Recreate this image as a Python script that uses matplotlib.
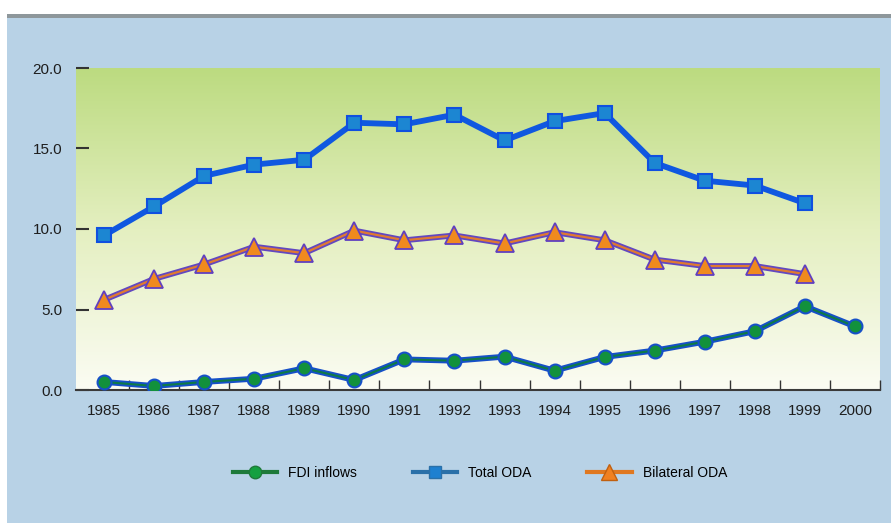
import numpy as np
import matplotlib.pyplot as plt
from matplotlib.lines import Line2D
from matplotlib.patches import Rectangle
from matplotlib.colors import LinearSegmentedColormap

plt.rcParams['font.family'] = ['Liberation Sans', 'DejaVu Sans']

# Datos
years = list(range(1985, 2001))
fdi = [0.5, 0.25, 0.5, 0.7, 1.35, 0.62, 1.9, 1.82, 2.07, 1.2, 2.05, 2.45, 3.0, 3.65, 5.2, 3.95]
oda_years = list(range(1985, 2000))
total_oda = [9.6, 11.4, 13.3, 14.0, 14.3, 16.6, 16.5, 17.1, 15.5, 16.7, 17.2, 14.1, 13.0, 12.7, 11.6]
bilateral_oda = [5.6, 6.9, 7.8, 8.9, 8.5, 9.9, 9.3, 9.6, 9.1, 9.8, 9.3, 8.1, 7.7, 7.7, 7.2]
yticks = [0, 5, 10, 15, 20]

W, H = 891, 523
fig = plt.figure(figsize=(W / 100, H / 100), dpi=100, facecolor='white')

# fondo azul y linea gris superior
fig.patches.append(Rectangle((7 / W, 0), 1, (H - 18) / H, transform=fig.transFigure,
                             facecolor='#B8D2E6', edgecolor='none', zorder=-10))
fig.patches.append(Rectangle((7 / W, (H - 18) / H), 1, 4 / H, transform=fig.transFigure,
                             facecolor='#8E979B', edgecolor='none', zorder=-10))

ax = fig.add_axes([76 / W, 1 - 390 / H, (880 - 76) / W, (390 - 68) / H])
ax.set_xlim(1984.44, 2000.5)
ax.set_ylim(0, 20)

# degradado verde
cmap = LinearSegmentedColormap.from_list('g', ['#FBFCF3', '#E4EFC0', '#BCDB80'])
grad = np.linspace(0, 1, 256).reshape(-1, 1)
ax.imshow(grad, extent=[1984.44, 2000.5, 0, 20], origin='lower', aspect='auto',
          cmap=cmap, zorder=0)

# Total ODA
ax.plot(oda_years, total_oda, color='#1058E0', lw=4.2, zorder=3,
        marker='s', ms=10, mfc='#1C86D2', mec='#1050E0', mew=1.5)

# Bilateral ODA
ax.plot(oda_years, bilateral_oda, color='#6248C0', lw=4.2, zorder=3)
ax.plot(oda_years, bilateral_oda, color='#E07A30', lw=1.6, zorder=3,
        marker='^', ms=13, mfc='#F08A1E', mec='#6040C0', mew=1.3)

# FDI inflows
ax.plot(years, fdi, color='#1650C8', lw=4.2, zorder=3)
ax.plot(years, fdi, color='#0E7A48', lw=1.5, zorder=3,
        marker='o', ms=10, mfc='#12913C', mec='#1650C8', mew=1.5)

for s in ['top', 'right', 'left']:
    ax.spines[s].set_visible(False)
ax.spines['bottom'].set_color('#3A3A3A')
ax.spines['bottom'].set_linewidth(1.5)

ax.set_yticks(yticks)
ax.set_yticklabels([f'{v:.1f}' for v in yticks])
ax.tick_params(axis='y', direction='in', length=9.5, width=1.5, color='#333333',
               pad=10, labelsize=11, labelcolor='#1E1E1E')

ax.set_xticks(years)
ax.set_xticklabels([str(y) for y in years])
ax.set_xticks(np.arange(1985.5, 2001, 1), minor=True)
ax.tick_params(axis='x', which='major', length=0, pad=10, labelsize=11, labelcolor='#1E1E1E')
ax.tick_params(axis='x', which='minor', direction='in', length=7, width=1, color='#333333')

handles = [
    Line2D([], [], color='#1E7A3A', lw=3, marker='o', ms=9, mfc='#14A040', mec='#1E7A3A'),
    Line2D([], [], color='#2A70A8', lw=3, marker='s', ms=8, mfc='#1E80D0', mec='#2A70A8'),
    Line2D([], [], color='#E07820', lw=3, marker='^', ms=11, mfc='#F08020', mec='#C06010'),
]
fig.legend(handles, ['FDI inflows', 'Total ODA', 'Bilateral ODA'], ncol=3,
           loc='center', bbox_to_anchor=(480 / W, 1 - 473 / H), frameon=False,
           fontsize=10, handlelength=3.2, columnspacing=4, handletextpad=0.8)

plt.savefig('out.png', dpi=100, facecolor=fig.get_facecolor())
